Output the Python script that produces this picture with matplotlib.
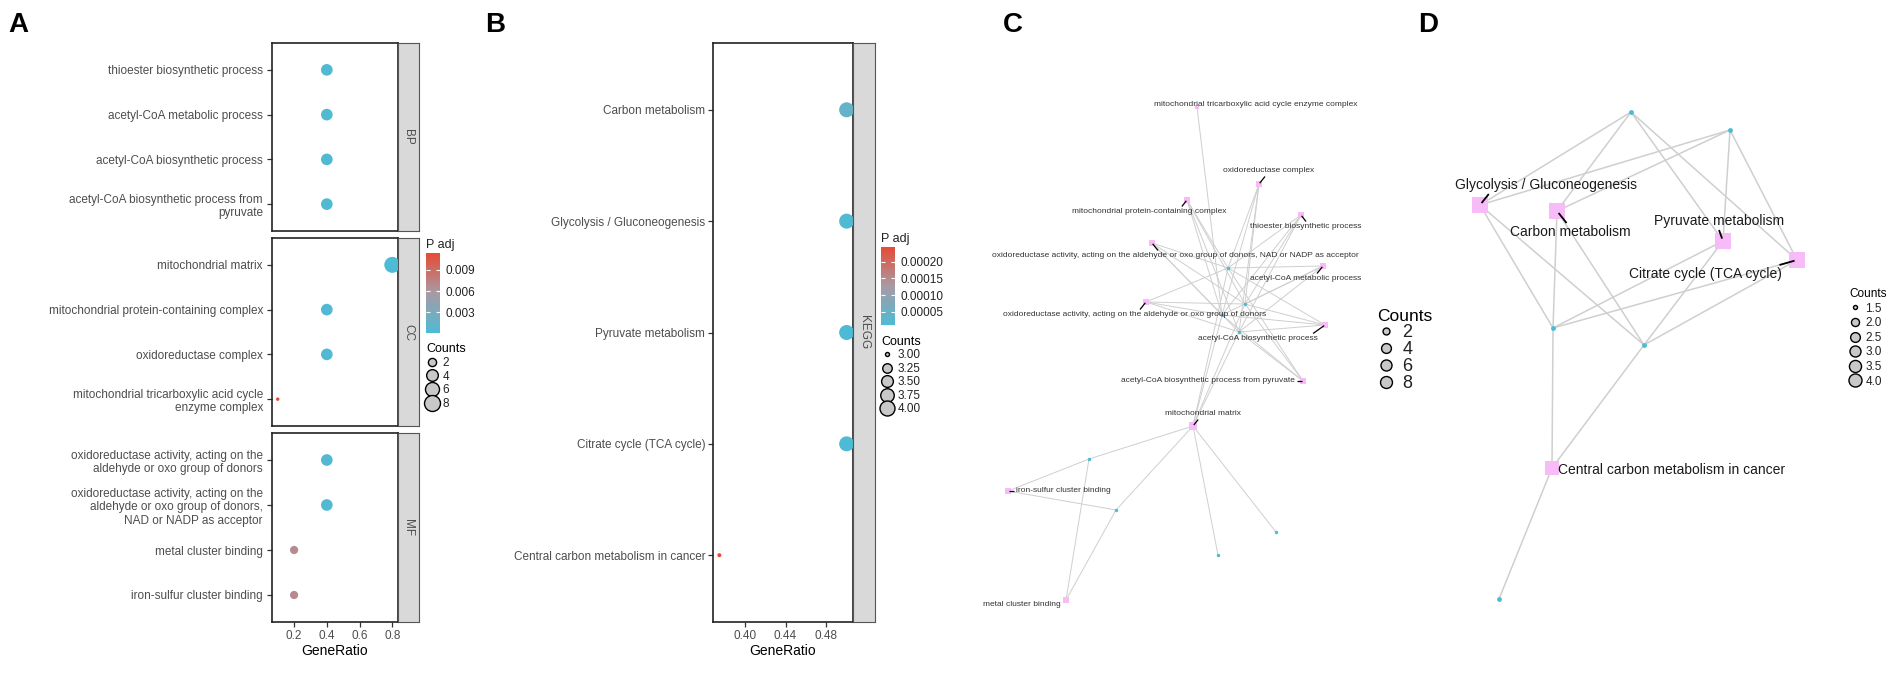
import numpy as np
import matplotlib.pyplot as plt
from matplotlib.colors import LinearSegmentedColormap, Normalize
from matplotlib.cm import ScalarMappable
from matplotlib.lines import Line2D
from matplotlib.ticker import FormatStrFormatter

plt.rcParams['font.family'] = ['Liberation Sans', 'DejaVu Sans']

# ---------------- data ----------------
# A: GO enrichment
go_labels = [
    'thioester biosynthetic process',
    'acetyl-CoA metabolic process',
    'acetyl-CoA biosynthetic process',
    'acetyl-CoA biosynthetic process from\npyruvate',
    'mitochondrial matrix',
    'mitochondrial protein-containing complex',
    'oxidoreductase complex',
    'mitochondrial tricarboxylic acid cycle\nenzyme complex',
    'oxidoreductase activity, acting on the\naldehyde or oxo group of donors',
    'oxidoreductase activity, acting on the\naldehyde or oxo group of donors,\nNAD or NADP as acceptor',
    'metal cluster binding',
    'iron-sulfur cluster binding',
]
go_ontology = ['BP'] * 4 + ['CC'] * 4 + ['MF'] * 4
go_ratio = [0.4, 0.4, 0.4, 0.4, 0.8, 0.4, 0.4, 0.1, 0.4, 0.4, 0.2, 0.2]
go_count = [4, 4, 4, 4, 8, 4, 4, 1, 4, 4, 2, 2]
go_padj = [0.0003, 0.0003, 0.0003, 0.0003, 0.0001, 0.0004, 0.0004, 0.0114,
           0.0005, 0.0005, 0.0068, 0.0068]

# B: KEGG enrichment
kegg_terms = ['Carbon metabolism', 'Glycolysis / Gluconeogenesis', 'Pyruvate metabolism',
              'Citrate cycle (TCA cycle)', 'Central carbon metabolism in cancer']
kegg_ratio = [0.5, 0.5, 0.5, 0.5, 0.375]
kegg_count = [4, 4, 4, 4, 3]
kegg_padj = [4.0e-5, 1.5e-5, 1.2e-5, 1.0e-5, 2.44e-4]

# C: GO term-gene network (layout units)
cnet_terms = [
    'mitochondrial tricarboxylic acid cycle enzyme complex',
    'oxidoreductase complex',
    'mitochondrial protein-containing complex',
    'thioester biosynthetic process',
    'oxidoreductase activity, acting on the aldehyde or oxo group of donors, NAD or NADP as acceptor',
    'acetyl-CoA metabolic process',
    'oxidoreductase activity, acting on the aldehyde or oxo group of donors',
    'acetyl-CoA biosynthetic process',
    'acetyl-CoA biosynthetic process from pyruvate',
    'mitochondrial matrix',
    'iron-sulfur cluster binding',
    'metal cluster binding',
]
cnet_count = [1, 4, 4, 4, 4, 4, 4, 4, 4, 8, 2, 2]
cnet_term_x = [2.47, 3.09, 2.37, 3.51, 2.02, 3.73, 1.96, 3.75, 3.53, 2.43, 0.58, 1.16]
cnet_term_y = [5.13, 4.36, 4.20, 4.05, 3.77, 3.54, 3.18, 2.95, 2.39, 1.94, 1.29, 0.20]
cnet_gene_x = [2.78, 2.95, 2.72, 2.89, 1.39, 1.66, 3.26, 2.68]
cnet_gene_y = [3.52, 3.16, 3.05, 2.88, 1.61, 1.10, 0.88, 0.65]
cnet_links = [[2], [0, 1, 2, 3], [0, 1, 2, 3], [0, 1, 2, 3], [0, 1, 2, 3], [0, 1, 2, 3],
              [0, 1, 2, 3], [0, 1, 2, 3], [0, 1, 2, 3], [0, 1, 2, 3, 4, 5, 6, 7],
              [4, 5], [4, 5]]

# D: KEGG term-gene network (layout units)
dnet_count = kegg_count
dnet_term_x = [1.17, 0.40, 2.83, 3.57, 1.12]
dnet_term_y = [4.09, 4.15, 3.79, 3.60, 1.52]
dnet_gene_x = [1.91, 2.90, 1.13, 2.04, 0.59]
dnet_gene_y = [5.08, 4.90, 2.92, 2.75, 0.21]
dnet_links = [[0, 1, 2, 3], [0, 1, 2, 3], [0, 1, 2, 3], [0, 1, 2, 3], [2, 3, 4]]

# label placement (repel result, layout units)
cnet_label_x = [3.06, 3.19, 1.99, 3.56, 2.25, 3.56, 1.85, 3.08, 2.58, 2.53, 0.66, 1.11]
cnet_label_y = [5.15, 4.49, 4.08, 3.93, 3.64, 3.41, 3.05, 2.81, 2.39, 2.06, 1.29, 0.16]
cnet_label_ha = ['center'] * 10 + ['left', 'right']
dnet_label_x = [1.30, 1.06, 2.79, 2.65, 2.32]
dnet_label_y = [3.88, 4.35, 3.99, 3.46, 1.50]

# ---------------- style ----------------
W, H = 1901, 673
fig = plt.figure(figsize=(W / 100, H / 100), dpi=100)
cmap = LinearSegmentedColormap.from_list('padj', ['#4DBBD5', '#A89AA4', '#E64B35'])
grey30 = '#4D4D4D'
edge_col = '#CFCFCF'
term_col = '#F7BBF7'
gene_col = '#4DBBD5'


def px_axes(x0, y0, x1, y1):
    return fig.add_axes([x0 / W, 1 - y1 / H, (x1 - x0) / W, (y1 - y0) / H])


def fig_xy(x, y):
    return x / W, 1 - y / H


def style_box(ax):
    for sp in ax.spines.values():
        sp.set_linewidth(1.2)
        sp.set_color('#222222')
    ax.tick_params(length=3.5, width=0.9, color='#333333', labelcolor=grey30)


def add_strip(x0, y0, x1, y1, text):
    st = px_axes(x0, y0, x1, y1)
    st.set_facecolor('#D9D9D9')
    st.set_xticks([])
    st.set_yticks([])
    for sp in st.spines.values():
        sp.set_color('#555555')
        sp.set_linewidth(0.8)
    st.text(0.5, 0.5, text, rotation=-90, ha='center', va='center', fontsize=8.5,
            color=grey30, transform=st.transAxes)


def add_colorbar(x0, y0, x1, y1, norm, ticks, fmt):
    cax = px_axes(x0, y0, x1, y1)
    cb = fig.colorbar(ScalarMappable(norm=norm, cmap=cmap), cax=cax)
    cb.outline.set_visible(False)
    cb.set_ticks(ticks)
    cax.yaxis.set_major_formatter(FormatStrFormatter(fmt))
    cax.yaxis.set_ticks_position('both')
    cax.tick_params(axis='y', direction='in', length=3, width=0.8, color='white',
                    labelsize=8.5, labelcolor='#222222', labelleft=False, labelright=True, pad=4)
    fig.text(*fig_xy(x0, y0 - 8), 'P adj', fontsize=9, ha='left', va='center', color='#222222')


def size_legend(values, diam, x, y, fmt, fontsize, title_size, spacing):
    handles = [Line2D([], [], ls='', marker='o', markersize=diam(v), markerfacecolor='#C8C8C8',
                      markeredgecolor='black', markeredgewidth=1.0) for v in values]
    leg = fig.legend(handles, [fmt.format(v) for v in values], title='Counts', loc='upper left',
                     bbox_to_anchor=fig_xy(x, y), frameon=False, fontsize=fontsize,
                     title_fontsize=title_size, borderpad=0, borderaxespad=0,
                     labelspacing=spacing, handlelength=1.0, handletextpad=0.4,
                     alignment='left')
    for t in leg.get_texts():
        t.set_color('#222222')


def diam_a(c):
    return 2.5 + 9 * np.sqrt((np.asarray(c, float) - 1) / 7)


def diam_b(c):
    return 2.9 + 7.9 * np.sqrt(np.asarray(c, float) - 3)


# ---------------- panel A ----------------
fig.text(*fig_xy(8, 25), 'A', fontsize=20, fontweight='bold', va='center', ha='left')
norm_a = Normalize(min(go_padj), max(go_padj))
pad_a = 0.05 * (max(go_ratio) - min(go_ratio))
facet_rows = [('BP', 43, 231), ('CC', 238, 426), ('MF', 433, 622)]
for k, (facet, top, bot) in enumerate(facet_rows):
    idx = [i for i, f in enumerate(go_ontology) if f == facet]
    ax = px_axes(272, top, 398, bot)
    ypos = np.arange(len(idx))
    ax.scatter([go_ratio[i] for i in idx], ypos, s=diam_a([go_count[i] for i in idx]) ** 2,
               c=[go_padj[i] for i in idx], cmap=cmap, norm=norm_a, linewidths=0, zorder=3)
    ax.set_xlim(min(go_ratio) - pad_a, max(go_ratio) + pad_a)
    ax.set_ylim(len(idx) - 0.4, -0.6)
    ax.set_yticks(ypos)
    ax.set_yticklabels([go_labels[i] for i in idx], fontsize=8.5)
    style_box(ax)
    ax.tick_params(axis='y', pad=3)
    if k < 2:
        ax.tick_params(axis='x', bottom=False, labelbottom=False)
    else:
        ax.set_xticks([0.2, 0.4, 0.6, 0.8])
        ax.tick_params(axis='x', labelsize=8.5, pad=2)
        ax.set_xlabel('GeneRatio', fontsize=10, labelpad=2)
    add_strip(398, top, 419, bot, facet)

add_colorbar(426, 253, 440, 333, norm_a, [0.003, 0.006, 0.009], '%.3f')
size_legend([2, 4, 6, 8], diam_a, 426, 343, '{}', 8.5, 9, 0.15)

# ---------------- panel B ----------------
fig.text(*fig_xy(485, 25), 'B', fontsize=20, fontweight='bold', va='center', ha='left')
norm_b = Normalize(min(kegg_padj), max(kegg_padj))
pad_b = 0.05 * (max(kegg_ratio) - min(kegg_ratio))
axb = px_axes(713, 43, 853, 622)
yb = np.arange(len(kegg_terms))
axb.scatter(kegg_ratio, yb, s=diam_b(kegg_count) ** 2, c=kegg_padj, cmap=cmap, norm=norm_b,
            linewidths=0, zorder=3)
axb.set_xlim(min(kegg_ratio) - pad_b, max(kegg_ratio) + pad_b)
axb.set_ylim(len(kegg_terms) - 0.4, -0.6)
axb.set_yticks(yb)
axb.set_yticklabels(kegg_terms, fontsize=8.5)
axb.set_xticks([0.40, 0.44, 0.48])
axb.xaxis.set_major_formatter(FormatStrFormatter('%.2f'))
style_box(axb)
axb.tick_params(axis='y', pad=2)
axb.tick_params(axis='x', labelsize=8.5, pad=2)
axb.set_xlabel('GeneRatio', fontsize=10, labelpad=2)
add_strip(853, 43, 875, 622, 'KEGG')
add_colorbar(881, 247, 895, 325, norm_b, [0.00005, 0.00010, 0.00015, 0.00020], '%.5f')
size_legend([3.0, 3.25, 3.5, 3.75, 4.0], diam_b, 881, 336, '{:.2f}', 8.5, 9, 0.12)


# ---------------- networks ----------------
def draw_network(ax, tx, ty, gx, gy, links, counts, lx, ly, names, has, fsize, sq_diam,
                 gene_ms, lw, txt_col):
    for i, genes in enumerate(links):
        for j in genes:
            ax.plot([tx[i], gx[j]], [ty[i], gy[j]], color=edge_col, lw=lw, zorder=1,
                    solid_capstyle='round')
    ax.scatter(gx, gy, s=gene_ms ** 2, color=gene_col, linewidths=0, zorder=2)
    sq = sq_diam(counts)
    ax.scatter(tx, ty, s=sq ** 2, marker='s', color=term_col, linewidths=0, zorder=2)
    texts = [ax.text(lx[i], ly[i], name, ha=has[i], va='center', fontsize=fsize,
                     color=txt_col, zorder=4) for i, name in enumerate(names)]
    return texts, sq * 100 / 72 / 2


def label_segments(ax, texts, tx, ty, half_px, lw):
    # short leader from each square towards its label, slanted like ggrepel
    renderer = fig.canvas.get_renderer()
    inv = ax.transData.inverted()
    for t, x, y, h in zip(texts, tx, ty, half_px):
        bb = t.get_window_extent(renderer).padded(2)
        cx, cy = ax.transData.transform((x, y))
        px = np.clip(cx, bb.x0, bb.x1)
        py = np.clip(cy, bb.y0, bb.y1)
        gap = abs(py - cy)
        mid = 0.5 * (bb.x0 + bb.x1)
        shift = min(gap * 0.8, abs(mid - px))
        px = np.clip(px + np.sign(mid - px) * shift, bb.x0, bb.x1)
        dx, dy = px - cx, py - cy
        dist = np.hypot(dx, dy)
        if dist <= h * 1.1:
            continue
        sx, sy = cx + dx / dist * h * 0.3, cy + dy / dist * h * 0.3
        (ax0, ay0), (ax1, ay1) = inv.transform([(sx, sy), (px, py)])
        ax.plot([ax0, ax1], [ay0, ay1], color='black', lw=lw, zorder=3,
                solid_capstyle='butt')


fig.text(*fig_xy(1003, 25), 'C', fontsize=20, fontweight='bold', va='center', ha='left')
axc = px_axes(950, 80, 1400, 620)
axc.set_xlim(0, 4.5)
axc.set_ylim(0, 5.4)
axc.axis('off')
c_texts, c_half = draw_network(
    axc, cnet_term_x, cnet_term_y, cnet_gene_x, cnet_gene_y, cnet_links, cnet_count,
    cnet_label_x, cnet_label_y, cnet_terms, cnet_label_ha, 6,
    lambda c: 2.8 + 3.2 * np.sqrt((np.asarray(c, float) - 1) / 7), 2.5, 0.7, '#333333')
size_legend([2, 4, 6, 8], lambda c: 5 + 3.6 * np.sqrt((c - 2) / 6), 1377, 309, '{}', 13, 12.5,
            0.0)

fig.text(*fig_xy(1418, 25), 'D', fontsize=20, fontweight='bold', va='center', ha='left')
axd = px_axes(1440, 90, 1850, 620)
axd.set_xlim(0, 4.1)
axd.set_ylim(0, 5.3)
axd.axis('off')
d_texts, d_half = draw_network(
    axd, dnet_term_x, dnet_term_y, dnet_gene_x, dnet_gene_y, dnet_links, dnet_count,
    dnet_label_x, dnet_label_y, kegg_terms, ['center'] * 5, 10,
    lambda c: 1.0 + 2.8 * np.asarray(c, float), 3.5, 1.1, '#1A1A1A')
size_legend([1.5, 2.0, 2.5, 3.0, 3.5, 4.0], lambda c: 2.9 + 6.5 * np.sqrt((c - 1.5) / 2.5),
            1849, 288, '{:.1f}', 8.5, 8.5, 0.22)

fig.canvas.draw()
label_segments(axc, c_texts, cnet_term_x, cnet_term_y, c_half, 0.9)
label_segments(axd, d_texts, dnet_term_x, dnet_term_y, d_half, 1.3)

fig.savefig('out.png', dpi=100, facecolor='white')
